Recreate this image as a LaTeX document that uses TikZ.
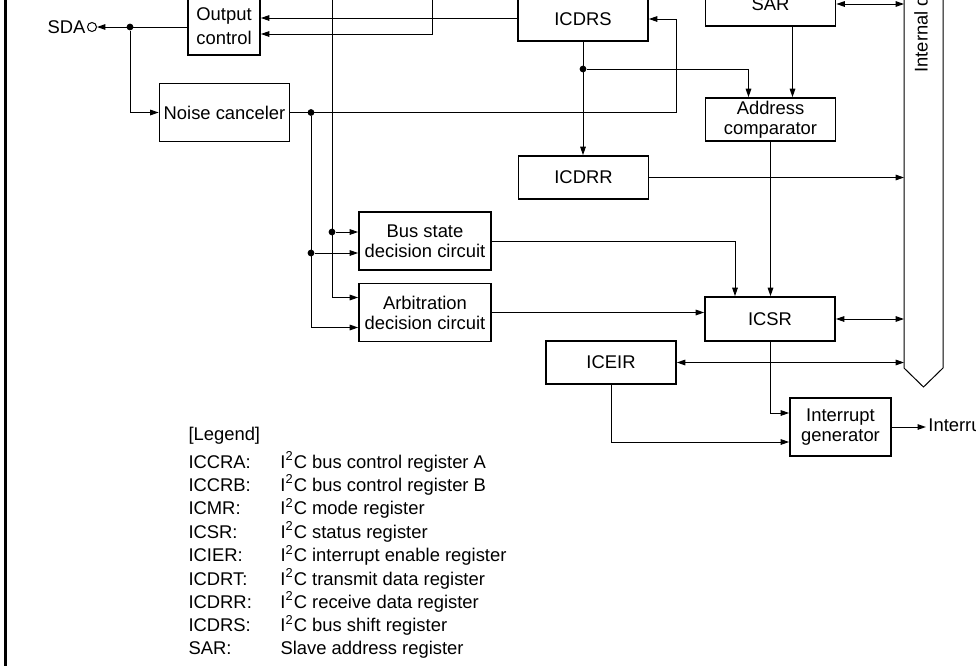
\documentclass[tikz,border=0pt]{standalone}
\usepackage{fontspec}
\setmainfont{Liberation Sans}
\usetikzlibrary{arrows.meta,calc,positioning}

\begin{document}
\begin{tikzpicture}[x=0.5pt,y=-0.5pt,line width=0.5pt,
  >={Triangle[length=4.2pt,width=2.8pt]},
  font=\fontsize{9.2}{10}\selectfont,
  box/.style={draw,line width=0.9pt,minimum width=65pt,minimum height=21.5pt,inner sep=1pt,align=center},
  tall/.style={box,minimum height=29pt},
  jn/.style={circle,fill,inner sep=0pt,minimum size=3.4pt}]
  \useasboundingbox (0,0) rectangle (976,665);
  \clip (0,0) rectangle (976,665);
  \draw[line width=1.2pt] (5.5,-5) -- (5.5,670);
  % blocks
  \node[box,minimum width=36pt,minimum height=29pt] (outctl) at (224,26) {Output\\[2pt]control};
  \node[box,minimum height=22pt] (icdrs) at (583,19) {ICDRS};
  \node[box,minimum height=22pt] (sar) at (770.5,4) {SAR};
  \node[tall] (noise) at (224.5,112.5) {Noise canceler};
  \node[box] (addr) at (770.5,119.5) {Address\\comparator};
  \node[box] (icdrr) at (583.5,177.5) {ICDRR};
  \node[tall,minimum width=66pt] (busst) at (425,241) {Bus state\\decision circuit};
  \node[tall,minimum width=66pt] (arb) at (425,312.5) {Arbitration\\decision circuit};
  \node[box,minimum height=22pt] (icsr) at (770,319) {ICSR};
  \node[box] (iceir) at (611,362.5) {ICEIR};
  \node[tall,minimum width=50.5pt] (intgen) at (840.5,427) {Interrupt\\generator};
  % SDA pin
  \node[circle,draw,inner sep=0pt,minimum size=4.5pt] (sda) at (92,27) {};
  \node[anchor=east,inner sep=0.5pt] (sdatxt) at (sda.west) {SDA};
  % internal bus
  \draw (904,-10) -- (904,368) -- (923.5,387) -- (943,368) -- (943,-10);
  \coordinate (busL) at (904,0);
  \node[rotate=90,anchor=west,inner sep=0pt] (bustxt) at (921,73) {Internal data bus};
  % free ends and taps
  \coordinate (topa) at (332,-5);
  \coordinate (topb) at (432,-5);
  \coordinate (oin1) at ([yshift=4pt]outctl.east);
  \coordinate (oin2) at ([yshift=-4pt]outctl.east);
  \coordinate (bin1) at ([yshift=4.5pt]busst.west);
  \coordinate (bin2) at ([yshift=-6pt]busst.west);
  \coordinate (ain1) at ([yshift=7.5pt]arb.west);
  \coordinate (ain2) at ([yshift=-7.5pt]arb.west);
  \node[jn] (j1) at (130,27) {};
  \node[jn] (j2) at (311,112.5) {};
  \node[jn] (j3) at (583,69) {};
  \node[jn] (j4) at (topa |- bin1) {};
  \node[jn] (j5) at (j2 |- bin2) {};
  % connections
  \draw[->] (outctl.west |- j1) -- (sda);
  \draw[->] (j1) |- (noise.west);
  \draw[->] (noise.east) -| ([xshift=14pt]icdrs.east) -- (icdrs.east);
  \draw[->] (oin1 -| icdrs.west) -- (oin1);
  \draw[->] (topb) |- (oin2);
  \draw[->] (topa) |- (ain1);
  \draw[->] (j4) -- (bin1);
  \draw[->] (j2) |- (ain2);
  \draw[->] (j5) -- (bin2);
  \draw[->] (icdrs.south) -- (icdrs.south |- icdrr.north);
  \draw[->] (j3) -| ([xshift=-11pt]addr.north);
  \draw[->] ([xshift=11pt]sar.south) -- ([xshift=11pt]addr.north);
  \draw[<->] (sar.east) -- (sar.east -| busL);
  \draw[->] (icdrr.east) -- (icdrr.east -| busL);
  \draw[<->] (icsr.east) -- (icsr.east -| busL);
  \draw[<->] (iceir.east) -- (iceir.east -| busL);
  \draw[->] (addr.south) -- (addr.south |- icsr.north);
  \draw[->] (busst.east) -| ([xshift=-17.5pt]icsr.north);
  \draw[->] (arb.east) -- (arb.east -| icsr.west);
  \draw[->] (icsr.south) |- ([yshift=7pt]intgen.west);
  \draw[->] (iceir.south) |- ([yshift=-7.5pt]intgen.west);
  \coordinate (irq) at ([xshift=17pt]intgen.east);
  \draw[->] (intgen.east) -- (irq);
  \node[anchor=west,inner sep=1pt] (irqtxt) at (irq) {Interrupt request};
  % legend
  \node[anchor=base west,inner sep=0pt] (leghead) at (188,440) {[Legend]};
  \node[anchor=base west,inner sep=0pt,font=\fontsize{9.2}{11.3}\selectfont] (legend) at (188,468) {%
    \begin{tabular}[t]{@{}p{46pt}@{}l@{}}
      ICCRA: & I\textsuperscript{2}C bus control register A\\
      ICCRB: & I\textsuperscript{2}C bus control register B\\
      ICMR:  & I\textsuperscript{2}C mode register\\
      ICSR:  & I\textsuperscript{2}C status register\\
      ICIER: & I\textsuperscript{2}C interrupt enable register\\
      ICDRT: & I\textsuperscript{2}C transmit data register\\
      ICDRR: & I\textsuperscript{2}C receive data register\\
      ICDRS: & I\textsuperscript{2}C bus shift register\\
      SAR:   & Slave address register
    \end{tabular}};
\end{tikzpicture}
\end{document}
